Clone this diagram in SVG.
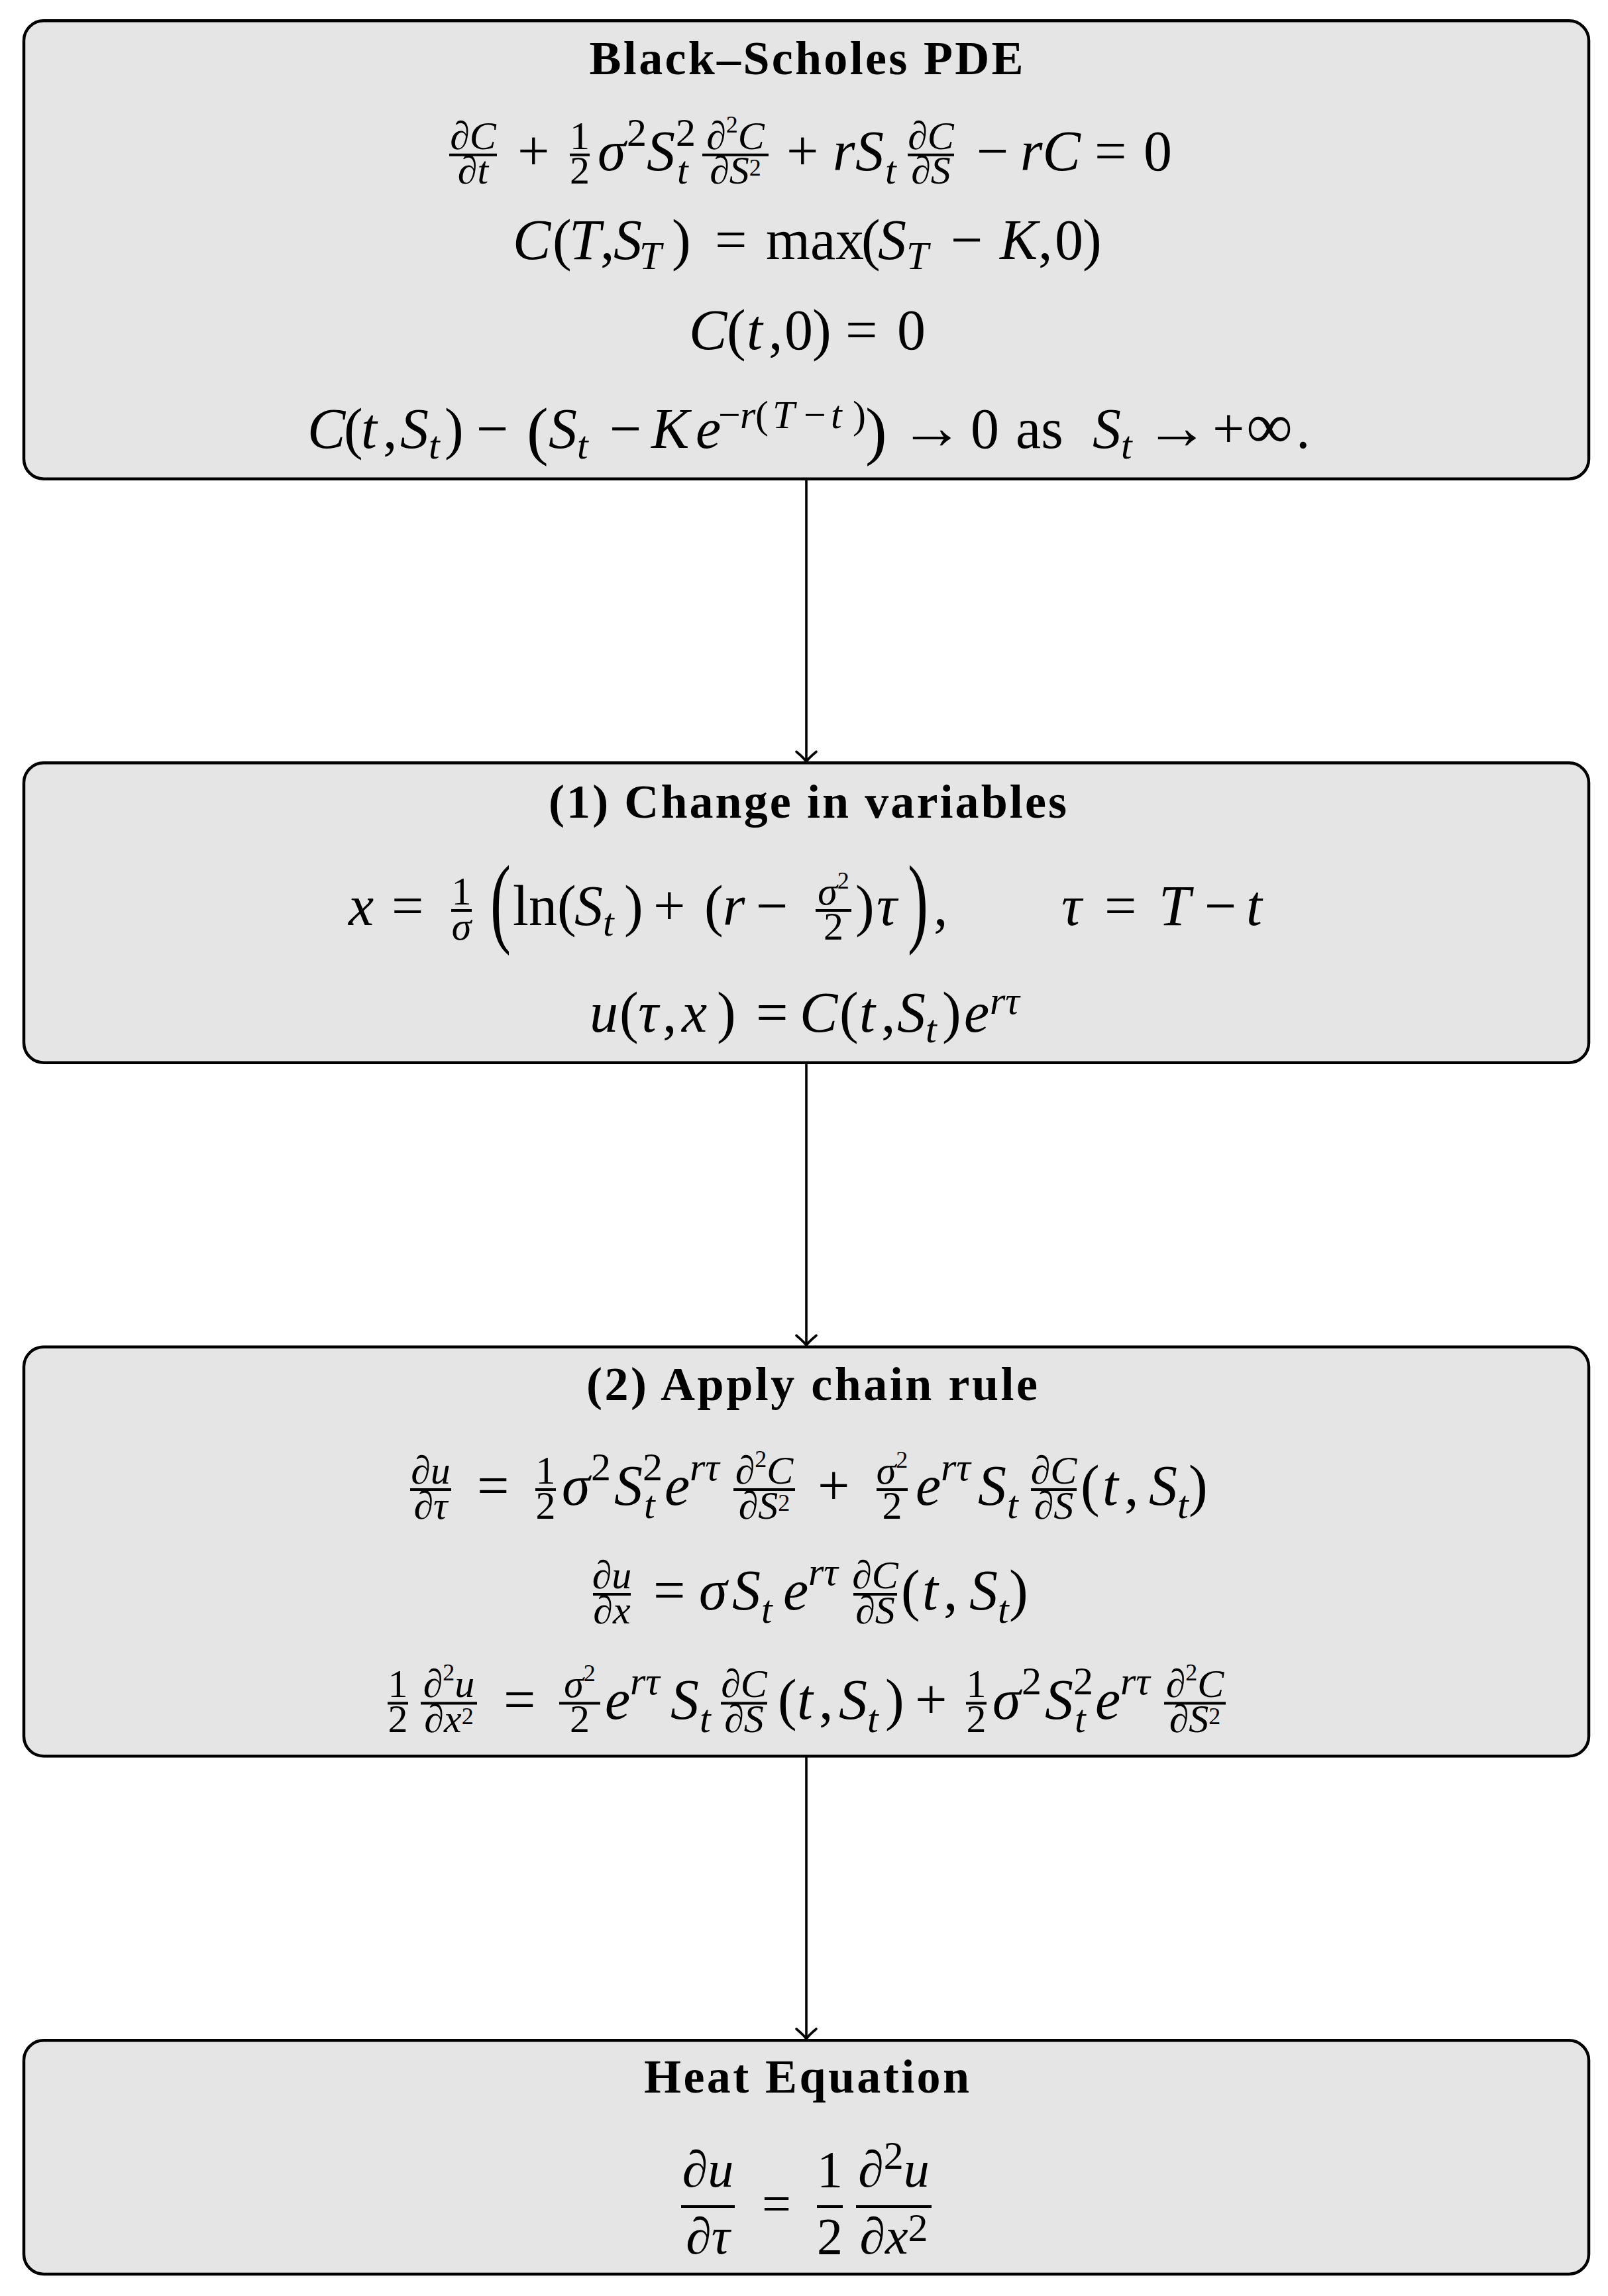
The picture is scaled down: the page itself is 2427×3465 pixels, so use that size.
<svg xmlns="http://www.w3.org/2000/svg" width="2427" height="3465" viewBox="0 0 2427 3465">
<defs>
<style>
text { font-family: "Liberation Serif", "DejaVu Serif", serif; fill: #000; }
.box { fill: #e5e5e5; stroke: #000; stroke-width: 4.5; }
.ttl { font-weight: bold; font-size: 72px; text-anchor: middle; }
.M { font-size: 86px; }
.S { font-size: 60px; }
.SS { font-size: 36px; }
.H { font-size: 78px; }
.i { font-style: italic; }
.u { font-style: normal; }
.c { text-anchor: middle; }
.ar { font-size: 96px; font-style: normal; }
.bar { stroke: #000; stroke-width: 4; }
.conn { fill: none; stroke: #000; stroke-width: 3.6; }
.bigp { font-size: 150px; font-style: normal; }
</style>
<marker id="arr" markerUnits="userSpaceOnUse" markerWidth="40" markerHeight="40" viewBox="-20 -20 40 40" refX="0" refY="0" orient="auto" overflow="visible">
<path d="M-15,-15 Q-5,-3 0,0 Q-5,3 -15,15" fill="none" stroke="#000" stroke-width="3.6" stroke-linecap="round"/>
</marker>
</defs>
<rect width="2427" height="3465" fill="#fff"/>

<g id="node-blackscholes">
<rect class="box" x="36" y="31.3" width="2362" height="691.4" rx="30"/>
<text class="ttl" x="1217" y="112" textLength="655" lengthAdjust="spacing">Black–Scholes PDE</text>
<line class="bar" x1="678" y1="233.7" x2="750" y2="233.7"/>
<text class="S i c"><tspan x="714" y="225">∂C</tspan><tspan x="714" y="277">∂t</tspan></text>
<text class="M u" x="781" y="257">+</text>
<line class="bar" x1="860" y1="233.7" x2="890" y2="233.7"/>
<text class="S u c"><tspan x="875" y="225">1</tspan><tspan x="875" y="277">2</tspan></text>
<text class="M i" x="902" y="257">σ<tspan class="S u" x="946" y="220">2</tspan><tspan x="976" y="257">S</tspan><tspan class="S u" x="1020" y="220">2</tspan><tspan class="S i" x="1022" y="277">t</tspan></text>
<line class="bar" x1="1060" y1="233.7" x2="1160" y2="233.7"/>
<text class="S i c"><tspan x="1110" y="225">∂<tspan class="SS u" dy="-25">2</tspan><tspan dy="25">C</tspan></tspan><tspan x="1110" y="277">∂S<tspan class="SS u" dy="-12">2</tspan></tspan></text>
<text class="M u" x="1187" y="257">+<tspan class="i" x="1257">r</tspan><tspan class="i" x="1291">S</tspan><tspan class="S i" x="1336" y="277">t</tspan></text>
<line class="bar" x1="1370" y1="233.7" x2="1440" y2="233.7"/>
<text class="S i c"><tspan x="1405" y="225">∂C</tspan><tspan x="1405" y="277">∂S</tspan></text>
<text class="M u" x="1474" y="257">−<tspan class="i" x="1540">rC</tspan><tspan x="1652">=</tspan><tspan x="1726">0</tspan></text>

<text class="M i" x="774" y="391">C<tspan class="u" x="834">(</tspan><tspan x="859">T</tspan><tspan class="u" x="906">,</tspan><tspan x="926">S</tspan><tspan class="S i" x="965" y="406">T</tspan><tspan class="u" x="1014" y="391">)</tspan><tspan class="u" x="1079">=</tspan><tspan class="u" x="1156">max</tspan><tspan class="u" x="1300">(</tspan><tspan x="1325">S</tspan><tspan class="S i" x="1368" y="406">T</tspan><tspan class="u" x="1435" y="391">−</tspan><tspan x="1509">K</tspan><tspan class="u" x="1567">,</tspan><tspan class="u" x="1592">0</tspan><tspan class="u" x="1634">)</tspan></text>

<text class="M i" x="1040" y="527">C<tspan class="u" x="1097">(</tspan><tspan x="1127">t</tspan><tspan class="u" x="1160">,</tspan><tspan class="u" x="1184">0</tspan><tspan class="u" x="1226">)</tspan><tspan class="u" x="1276">=</tspan><tspan class="u" x="1354">0</tspan></text>

<text class="M i" x="464" y="676">C<tspan class="u" x="519">(</tspan><tspan x="545">t</tspan><tspan class="u" x="578">,</tspan><tspan x="604">S</tspan><tspan class="S i" x="647" y="692">t</tspan><tspan class="u" x="671" y="676">)</tspan><tspan class="u" x="719">−</tspan><tspan class="u" x="795" y="683" style="font-size:98px">(</tspan><tspan x="828" y="676">S</tspan><tspan class="S i" x="871" y="692">t</tspan><tspan class="u" x="920" y="676">−</tspan><tspan x="983">K</tspan><tspan x="1050">e</tspan><tspan class="S u" x="1084" y="646">−</tspan><tspan class="S i" x="1117">r</tspan><tspan class="S u" x="1140">(</tspan><tspan class="S i" x="1166">T</tspan><tspan class="S u" x="1213">−</tspan><tspan class="S i" x="1254">t</tspan><tspan class="S u" x="1287">)</tspan><tspan class="u" x="1306" y="683" style="font-size:98px">)</tspan><tspan class="ar" x="1358" y="677">→</tspan><tspan class="u" x="1465" y="676">0</tspan><tspan class="u" x="1533">as</tspan><tspan x="1649">S</tspan><tspan class="S i" x="1692" y="692">t</tspan><tspan class="ar" x="1728" y="677">→</tspan><tspan class="u" x="1830" y="676">+</tspan><tspan class="u" x="1881" style="font-size:98px">∞</tspan><tspan class="u" x="1956">.</tspan></text>
</g>

<g id="node-change">
<rect class="box" x="36" y="1151.3" width="2362" height="452.4" rx="30"/>
<text class="ttl" x="1219" y="1234" textLength="782" lengthAdjust="spacing">(1) Change in variables</text>
<text class="M i" x="526" y="1396">x<tspan class="u" x="591">=</tspan></text>
<line class="bar" x1="681" y1="1374" x2="712" y2="1374"/>
<text class="S c"><tspan class="u" x="696.5" y="1365">1</tspan><tspan class="i" x="696.5" y="1418">σ</tspan></text>
<text class="bigp" transform="translate(740,1410) scale(0.62,1)">(</text>
<text class="M u" x="774" y="1396">ln<tspan x="841">(</tspan><tspan class="i" x="867">S</tspan><tspan class="S i" x="910" y="1412">t</tspan><tspan x="942" y="1396">)</tspan><tspan x="986">+</tspan><tspan x="1063">(</tspan><tspan class="i" x="1091">r</tspan><tspan x="1141">−</tspan></text>
<line class="bar" x1="1231" y1="1374" x2="1285" y2="1374"/>
<text class="S c"><tspan class="i" x="1258" y="1365">σ<tspan class="SS u" dy="-24">2</tspan></tspan><tspan class="u" x="1258" y="1418">2</tspan></text>
<text class="M u" x="1291" y="1396">)<tspan class="i" x="1323">τ</tspan></text>
<text class="bigp" transform="translate(1370,1410) scale(0.62,1)">)</text>
<text class="M u" x="1409" y="1396">,<tspan class="i" x="1602">τ</tspan><tspan x="1667">=</tspan><tspan class="i" x="1749">T</tspan><tspan x="1818">−</tspan><tspan class="i" x="1881">t</tspan></text>

<text class="M i" x="890" y="1557">u<tspan class="u" x="935">(</tspan><tspan x="963">τ</tspan><tspan class="u" x="1000">,</tspan><tspan x="1029">x</tspan><tspan class="u" x="1082">)</tspan><tspan class="u" x="1141">=</tspan><tspan x="1207">C</tspan><tspan class="u" x="1267">(</tspan><tspan x="1297">t</tspan><tspan class="u" x="1330">,</tspan><tspan x="1354">S</tspan><tspan class="S i" x="1397" y="1573">t</tspan><tspan class="u" x="1422" y="1557">)</tspan><tspan x="1455">e</tspan><tspan class="S i" x="1494" y="1530">rτ</tspan></text>
</g>

<g id="node-chain">
<rect class="box" x="36" y="2032.7" width="2362" height="617.6" rx="30"/>
<text class="ttl" x="1225.5" y="2112.5" textLength="681" lengthAdjust="spacing">(2) Apply chain rule</text>

<line class="bar" x1="619" y1="2248" x2="681" y2="2248"/>
<text class="S i c"><tspan x="650" y="2239">∂u</tspan><tspan x="650" y="2292">∂τ</tspan></text>
<text class="M u" x="720" y="2271">=</text>
<line class="bar" x1="808" y1="2248" x2="839" y2="2248"/>
<text class="S u c"><tspan x="823.5" y="2239">1</tspan><tspan x="823.5" y="2292">2</tspan></text>
<text class="M i" x="848" y="2271">σ<tspan class="S u" x="892" y="2234">2</tspan><tspan x="927" y="2271">S</tspan><tspan class="S u" x="970" y="2234">2</tspan><tspan class="S i" x="972" y="2291">t</tspan><tspan x="1003" y="2271">e</tspan><tspan class="S i" x="1041" y="2234">rτ</tspan></text>
<line class="bar" x1="1107" y1="2248" x2="1200" y2="2248"/>
<text class="S i c"><tspan x="1153.5" y="2239">∂<tspan class="SS u" dy="-25">2</tspan><tspan dy="25">C</tspan></tspan><tspan x="1153.5" y="2292">∂S<tspan class="SS u" dy="-12">2</tspan></tspan></text>
<text class="M u" x="1234" y="2271">+</text>
<line class="bar" x1="1323" y1="2248" x2="1370" y2="2248"/>
<text class="S c"><tspan class="i" x="1346.5" y="2239">σ<tspan class="SS u" dy="-24">2</tspan></tspan><tspan class="u" x="1346.5" y="2292">2</tspan></text>
<text class="M i" x="1382" y="2271">e<tspan class="S i" x="1420" y="2234">rτ</tspan><tspan x="1476" y="2271">S</tspan><tspan class="S i" x="1520" y="2291">t</tspan></text>
<line class="bar" x1="1556" y1="2248" x2="1625" y2="2248"/>
<text class="S i c"><tspan x="1590.5" y="2239">∂C</tspan><tspan x="1590.5" y="2292">∂S</tspan></text>
<text class="M u" x="1631" y="2271">(<tspan class="i" x="1664">t</tspan><tspan x="1697">,</tspan><tspan class="i" x="1734">S</tspan><tspan class="S i" x="1777" y="2291">t</tspan><tspan x="1794" y="2271">)</tspan></text>

<line class="bar" x1="895" y1="2406" x2="952" y2="2406"/>
<text class="S i c"><tspan x="923.5" y="2397">∂u</tspan><tspan x="923.5" y="2450">∂x</tspan></text>
<text class="M u" x="986" y="2429">=<tspan class="i" x="1055">σ</tspan><tspan class="i" x="1105">S</tspan><tspan class="S i" x="1149" y="2449">t</tspan><tspan class="i" x="1182" y="2429">e</tspan><tspan class="S i" x="1220" y="2392">rτ</tspan></text>
<line class="bar" x1="1288" y1="2406" x2="1354" y2="2406"/>
<text class="S i c"><tspan x="1321" y="2397">∂C</tspan><tspan x="1321" y="2450">∂S</tspan></text>
<text class="M u" x="1360" y="2429">(<tspan class="i" x="1392">t</tspan><tspan x="1424">,</tspan><tspan class="i" x="1463">S</tspan><tspan class="S i" x="1506" y="2449">t</tspan><tspan x="1523" y="2429">)</tspan></text>

<line class="bar" x1="585" y1="2570.5" x2="616" y2="2570.5"/>
<text class="S u c"><tspan x="600.5" y="2561">1</tspan><tspan x="600.5" y="2614">2</tspan></text>
<line class="bar" x1="635" y1="2570.5" x2="720" y2="2570.5"/>
<text class="S i c"><tspan x="677.5" y="2561">∂<tspan class="SS u" dy="-25">2</tspan><tspan dy="25">u</tspan></tspan><tspan x="677.5" y="2614">∂x<tspan class="SS u" dy="-12">2</tspan></tspan></text>
<text class="M u" x="760" y="2594">=</text>
<line class="bar" x1="844" y1="2570.5" x2="906" y2="2570.5"/>
<text class="S c"><tspan class="i" x="875" y="2561">σ<tspan class="SS u" dy="-24">2</tspan></tspan><tspan class="u" x="875" y="2614">2</tspan></text>
<text class="M i" x="913" y="2594">e<tspan class="S i" x="951" y="2557">rτ</tspan><tspan x="1012" y="2594">S</tspan><tspan class="S i" x="1056" y="2614">t</tspan></text>
<line class="bar" x1="1088" y1="2570.5" x2="1158" y2="2570.5"/>
<text class="S i c"><tspan x="1123" y="2561">∂C</tspan><tspan x="1123" y="2614">∂S</tspan></text>
<text class="M u" x="1174" y="2594">(<tspan class="i" x="1203">t</tspan><tspan x="1236">,</tspan><tspan class="i" x="1266">S</tspan><tspan class="S i" x="1309" y="2614">t</tspan><tspan x="1336" y="2594">)</tspan><tspan x="1381">+</tspan></text>
<line class="bar" x1="1458" y1="2570.5" x2="1489" y2="2570.5"/>
<text class="S u c"><tspan x="1473.5" y="2561">1</tspan><tspan x="1473.5" y="2614">2</tspan></text>
<text class="M i" x="1498" y="2594">σ<tspan class="S u" x="1542" y="2557">2</tspan><tspan x="1577" y="2594">S</tspan><tspan class="S u" x="1620" y="2557">2</tspan><tspan class="S i" x="1622" y="2614">t</tspan><tspan x="1653" y="2594">e</tspan><tspan class="S i" x="1691" y="2557">rτ</tspan></text>
<line class="bar" x1="1757" y1="2570.5" x2="1850" y2="2570.5"/>
<text class="S i c"><tspan x="1803.5" y="2561">∂<tspan class="SS u" dy="-25">2</tspan><tspan dy="25">C</tspan></tspan><tspan x="1803.5" y="2614">∂S<tspan class="SS u" dy="-12">2</tspan></tspan></text>
</g>

<g id="node-heat">
<rect class="box" x="36" y="3079.3" width="2362" height="352.7" rx="30"/>
<text class="ttl" x="1217.5" y="3158" textLength="491" lengthAdjust="spacing">Heat Equation</text>
<line class="bar" x1="1028" y1="3330" x2="1109" y2="3330"/>
<text class="H i c"><tspan x="1068.5" y="3300">∂u</tspan><tspan x="1068.5" y="3401">∂τ</tspan></text>
<text class="H u" x="1150" y="3352">=</text>
<line class="bar" x1="1233" y1="3330" x2="1272" y2="3330"/>
<text class="H u c"><tspan x="1252.5" y="3300">1</tspan><tspan x="1252.5" y="3401">2</tspan></text>
<line class="bar" x1="1292" y1="3330" x2="1406" y2="3330"/>
<text class="H i c"><tspan x="1349" y="3300">∂<tspan class="S u" dy="-27">2</tspan><tspan dy="27">u</tspan></tspan><tspan x="1349" y="3401">∂x<tspan class="S u" dy="-19">2</tspan></tspan></text>
</g>

<g id="connectors">
<path class="conn" d="M1217,722.7 V1149.5" marker-end="url(#arr)"/>
<path class="conn" d="M1217,1603.7 V2030.5" marker-end="url(#arr)"/>
<path class="conn" d="M1217,2650.3 V3077" marker-end="url(#arr)"/>
</g>
</svg>
